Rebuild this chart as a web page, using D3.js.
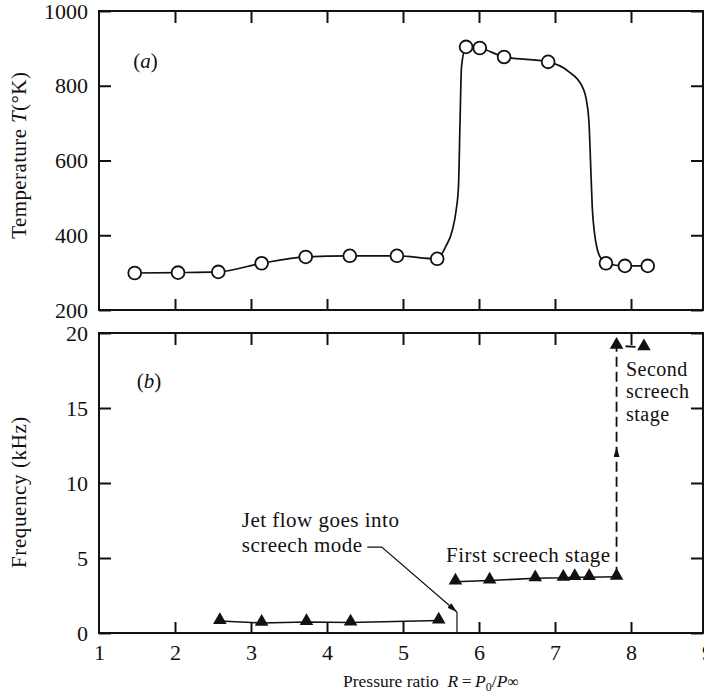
<!DOCTYPE html>
<html>
<head>
<meta charset="utf-8">
<script src="https://cdn.jsdelivr.net/npm/d3@7"></script>
<style>
  html, body { margin: 0; padding: 0; background: #fff; }
  svg { display: block; }
  text { font-family: "Liberation Serif", "DejaVu Serif", serif; fill: #111; }
</style>
</head>
<body>
<svg id="chart" width="704" height="693"></svg>
<script>
/* Jet screech figure: (a) temperature, (b) frequency vs pressure ratio */

// ---- data ----
const xTicks = [1, 2, 3, 4, 5, 6, 7, 8, 9];
const tempTicks = [200, 400, 600, 800, 1000];
const freqTicks = [0, 5, 10, 15, 20];

// (a) measured temperature points
const tempR = [1.47, 2.04, 2.57, 3.14, 3.72, 4.30, 4.92, 5.45, 5.83, 6.01, 6.33, 6.91, 7.67, 7.92, 8.22];
const tempT = [299, 300, 302, 325, 342, 345, 345, 337, 904, 901, 877, 864, 325, 318, 318];
// extra knots of the hand-faired curve
const curveR = [5.56, 5.65, 5.70, 5.73, 5.75, 5.77, 7.18, 7.36, 7.42, 7.45, 7.47, 7.49, 7.52, 7.56, 7.62];
const curveT = [369, 414, 468, 530, 700, 851, 838, 797, 753, 691, 583, 476, 405, 360, 334];

// (b) frequency, three stages
const baseR = [2.59, 3.14, 3.73, 4.31, 5.47];
const baseF = [0.80, 0.67, 0.73, 0.70, 0.83];
const firstR = [5.69, 6.14, 6.74, 7.11, 7.26, 7.45, 7.81];
const firstF = [3.42, 3.50, 3.65, 3.68, 3.72, 3.72, 3.75];
const secondR = [7.81, 8.17];
const secondF = [19.15, 19.05];
const jumpArrowF = 12.4;

// ---- layout ----
const svg = d3.select('#chart');
const left = 99, right = 703;
const x = d3.scaleLinear().domain([1, 9]).range([99, 707]);
const yT = d3.scaleLinear().domain([200, 1000]).range([310, 11]);
const yF = d3.scaleLinear().domain([0, 20]).range([633, 333]);
const INK = '#111';
const SERIF = '"Liberation Serif", "DejaVu Serif", serif';

svg.append('defs').append('marker')
  .attr('id', 'arrow')
  .attr('viewBox', '0 0 10 6')
  .attr('refX', 10).attr('refY', 3)
  .attr('markerWidth', 10).attr('markerHeight', 6)
  .attr('markerUnits', 'userSpaceOnUse')
  .attr('orient', 'auto')
  .append('path').attr('d', 'M0,0 L10,3 L0,6 Z').attr('fill', INK);

function frame(y) {
  const [y0, y1] = y.range();
  const g = svg.append('g');
  // inward ticks on all four sides
  g.append('g').attr('transform', `translate(0,${y1})`)
    .call(d3.axisTop(x).tickValues([2, 3, 4, 5, 6, 7, 8]).tickSize(-12).tickFormat(''));
  g.append('g').attr('transform', `translate(0,${y0})`)
    .call(d3.axisBottom(x).tickValues([2, 3, 4, 5, 6, 7, 8]).tickSize(-11).tickFormat(''));
  g.append('g').attr('transform', `translate(${right},0)`)
    .call(d3.axisRight(y).ticks(4).tickSize(-12).tickFormat(''));
  g.selectAll('.domain').remove();
  g.selectAll('.tick line').attr('stroke', INK).attr('stroke-width', 2);
  g.append('rect')
    .attr('x', left).attr('y', y1)
    .attr('width', right - left).attr('height', y0 - y1)
    .attr('fill', 'none').attr('stroke', INK).attr('stroke-width', 2);
  return g;
}

function leftAxis(y, values) {
  const g = svg.append('g').attr('transform', `translate(${left},0)`)
    .attr('font-family', SERIF)
    .call(d3.axisLeft(y).tickValues(values).tickSize(-12).tickPadding(11).tickFormat(d3.format('d')));
  g.attr('font-family', SERIF).attr('font-size', 22);
  g.select('.domain').remove();
  g.selectAll('.tick line').attr('stroke', INK).attr('stroke-width', 2);
  g.selectAll('.tick text').attr('fill', INK);
}

// ---------- panel (a) ----------
frame(yT);
leftAxis(yT, tempTicks);

const tempPts = tempR.map((r, i) => ({ r, v: tempT[i] }));
const curvePts = tempPts.concat(curveR.map((r, i) => ({ r, v: curveT[i] })))
  .sort((a, b) => a.r - b.r);

svg.append('path')
  .datum(curvePts)
  .attr('fill', 'none').attr('stroke', INK).attr('stroke-width', 1.7)
  .attr('d', d3.line().x(d => x(d.r)).y(d => yT(d.v)).curve(d3.curveMonotoneX));

svg.append('g').selectAll('circle')
  .data(tempPts).join('circle')
  .attr('cx', d => x(d.r)).attr('cy', d => yT(d.v)).attr('r', 6.4)
  .attr('fill', '#fff').attr('stroke', INK).attr('stroke-width', 1.8);

svg.append('text')
  .attr('x', x(1.45)).attr('y', yT(847)).attr('font-size', 21)
  .html('(<tspan font-style="italic">a</tspan>)');

svg.append('text')
  .attr('transform', `translate(26,${yT(614)}) rotate(-90)`)
  .attr('text-anchor', 'middle').attr('font-size', 21).attr('letter-spacing', 0.4)
  .html('Temperature <tspan font-style="italic">T</tspan>(°K)');

// ---------- panel (b) ----------
frame(yF);
leftAxis(yF, freqTicks);

const gx = svg.append('g').attr('transform', `translate(0,${yF(0)})`)
  .call(d3.axisBottom(x).tickValues(xTicks).tickSize(0).tickPadding(11));
gx.attr('font-family', SERIF).attr('font-size', 22);
gx.select('.domain').remove();
gx.selectAll('.tick text').attr('fill', INK);

const line = d3.line().x(d => x(d.r)).y(d => yF(d.v));
const tri = d3.symbol().type(d3.symbolTriangle).size(80);
function stage(rs, fs) {
  const pts = rs.map((r, i) => ({ r, v: fs[i] }));
  svg.append('path').datum(pts)
    .attr('fill', 'none').attr('stroke', INK).attr('stroke-width', 1.6)
    .attr('d', line);
  svg.append('g').selectAll('path')
    .data(pts).join('path')
    .attr('transform', d => `translate(${x(d.r)},${yF(d.v) - 1})`)
    .attr('d', tri).attr('fill', INK);
  return pts;
}
stage(baseR, baseF);
const first = stage(firstR, firstF);
const lastFirst = first[first.length - 1];

// dashed jump to the second stage
svg.append('path')
  .datum([lastFirst, { r: secondR[0], v: secondF[0] }, { r: secondR[1], v: secondF[1] }])
  .attr('fill', 'none').attr('stroke', INK).attr('stroke-width', 1.8)
  .attr('stroke-dasharray', '10,5')
  .attr('d', line);
svg.append('path')
  .datum([{ r: secondR[0], v: jumpArrowF - 0.5 }, { r: secondR[0], v: jumpArrowF }])
  .attr('fill', 'none').attr('stroke', INK).attr('stroke-width', 1.2)
  .attr('marker-end', 'url(#arrow)')
  .attr('d', line);
svg.append('g').selectAll('path')
  .data(secondR.map((r, i) => ({ r, v: secondF[i] }))).join('path')
  .attr('transform', d => `translate(${x(d.r)},${yF(d.v) - 1})`)
  .attr('d', tri).attr('fill', INK);

// "goes into screech mode" leader
svg.append('path')
  .datum([{ r: 4.53, v: 5.73 }, { r: 4.72, v: 5.73 }, { r: 5.71, v: 1.4 }])
  .attr('fill', 'none').attr('stroke', INK).attr('stroke-width', 1.2)
  .attr('marker-end', 'url(#arrow)')
  .attr('d', line);
svg.append('path')
  .datum([{ r: 5.71, v: 0 }, { r: 5.71, v: 1.4 }])
  .attr('fill', 'none').attr('stroke', INK).attr('stroke-width', 1.2)
  .attr('d', line);

function label(r, f, str, size) {
  svg.append('text').attr('x', x(r)).attr('y', yF(f))
    .attr('font-size', size || 21).attr('letter-spacing', 0.5).text(str);
}
label(2.878, 7.07, 'Jet flow goes into');
label(2.878, 5.40, 'screech mode');
label(5.566, 4.75, 'First screech stage');
label(7.934, 17.15, 'Second', 20);
label(7.934, 15.65, 'screech', 20);
label(7.934, 14.15, 'stage', 20);

svg.append('text')
  .attr('x', x(1.496)).attr('y', yF(16.33)).attr('font-size', 21)
  .html('(<tspan font-style="italic">b</tspan>)');

svg.append('text')
  .attr('transform', `translate(26,${yF(9.4)}) rotate(-90)`)
  .attr('text-anchor', 'middle').attr('font-size', 21).attr('letter-spacing', 0.6)
  .text('Frequency (kHz)');

svg.append('text')
  .attr('x', 343).attr('y', 687).attr('font-size', 17.5)
  .html('Pressure ratio\u2002<tspan font-style="italic">R</tspan>\u2009=\u2009<tspan font-style="italic">P</tspan><tspan font-size="12" dy="4">0</tspan><tspan dy="-4">/</tspan><tspan font-style="italic">P</tspan><tspan font-size="16">∞</tspan>');
</script>
</body>
</html>
